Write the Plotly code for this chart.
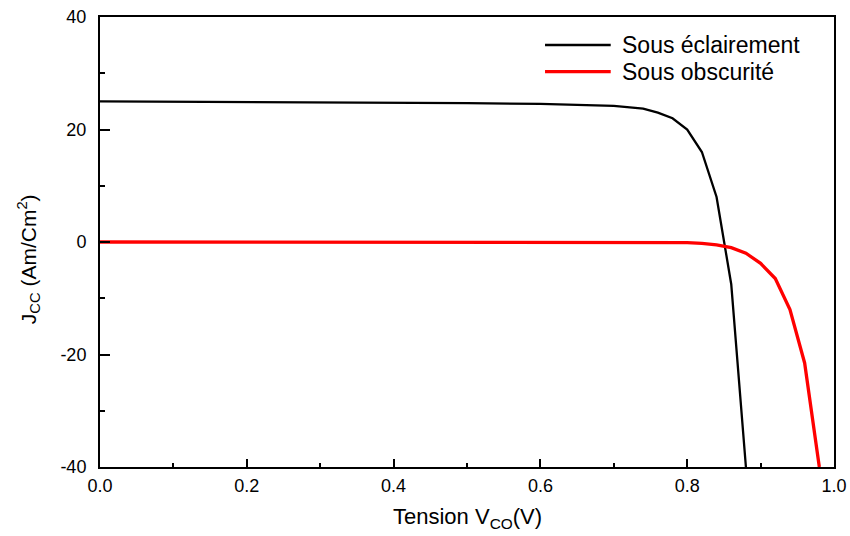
import plotly.graph_objects as go

# Current density vs voltage for the cell, illuminated and in the dark
v_light = [0.0, 0.1, 0.2, 0.3, 0.4, 0.5, 0.6, 0.66, 0.70, 0.74, 0.76, 0.78, 0.80, 0.82, 0.84, 0.86, 0.88]
j_light = [25.0, 24.95, 24.9, 24.85, 24.8, 24.7, 24.55, 24.4, 24.2, 23.7, 23.0, 22.0, 20.0, 16.0, 8.0, -7.5, -40.0]

v_dark = [0.0, 0.2, 0.4, 0.6, 0.7, 0.76, 0.80, 0.82, 0.84, 0.86, 0.88, 0.90, 0.92, 0.94, 0.96, 0.98]
j_dark = [0.0, 0.0, 0.0, 0.0, -0.02, -0.05, -0.1, -0.25, -0.5, -1.0, -2.0, -3.8, -6.5, -12.0, -21.5, -40.0]

x_ticks = [0.0, 0.2, 0.4, 0.6, 0.8, 1.0]
x_tick_labels = ["0.0", "0.2", "0.4", "0.6", "0.8", "1.0"]
y_ticks = [-40, -20, 0, 20, 40]
y_tick_labels = ["-40", "-20", "0", "20", "40"]

series_names = ["Sous éclairement", "Sous obscurité"]
series_colors = ["#000000", "#ff0000"]
series_widths = [2.3, 3.3]

FONT = "Liberation Sans, Arial, sans-serif"

fig = go.Figure()
fig.add_trace(go.Scatter(x=v_light, y=j_light, mode="lines", name=series_names[0],
                         line=dict(color=series_colors[0], width=series_widths[0]), showlegend=False))
fig.add_trace(go.Scatter(x=v_dark, y=j_dark, mode="lines", name=series_names[1],
                         line=dict(color=series_colors[1], width=series_widths[1]), showlegend=False))

axis_common = dict(showgrid=False, zeroline=False, showline=True, linecolor="#000000",
                   linewidth=2, mirror=True, ticks="inside", tickcolor="#000000",
                   tickwidth=1.5, automargin=False,
                   tickfont=dict(family=FONT, size=18, color="#000000"))

fig.update_xaxes(range=[0, 1.0], tickvals=x_ticks, ticktext=x_tick_labels, ticklen=8,
                 ticklabelstandoff=1,
                 minor=dict(dtick=0.1, ticks="inside", ticklen=4, tickcolor="#000000", tickwidth=1.5),
                 **axis_common)
fig.update_yaxes(range=[-40, 40], tickvals=y_ticks, ticktext=y_tick_labels, ticklen=10,
                 ticklabelstandoff=8,
                 minor=dict(dtick=10, ticks="inside", ticklen=5, tickcolor="#000000", tickwidth=1.5),
                 **axis_common)

annotations = [
    dict(text="Tension V<sub>CO</sub>(V)", xref="paper", yref="paper", x=0.5, y=-0.113,
         xanchor="center", yanchor="middle", showarrow=False,
         font=dict(family=FONT, size=22, color="#000000")),
    dict(text="J<sub>CC</sub> (Am/Cm<sup>2</sup>)", xref="paper", yref="paper", x=-0.098, y=0.462,
         xanchor="center", yanchor="middle", textangle=-90, showarrow=False,
         font=dict(family=FONT, size=21, color="#000000")),
]

# Hand-drawn legend: sample line plus label for each series
legend_y = [0.9378, 0.8784]
shapes = []
for name, color, width, ly in zip(series_names, series_colors, series_widths, legend_y):
    shapes.append(dict(type="line", xref="paper", yref="paper", x0=0.6063, x1=0.6958, y0=ly, y1=ly,
                       line=dict(color=color, width=width)))
    annotations.append(dict(text=name, xref="paper", yref="paper", x=0.7084, y=ly,
                            xanchor="left", yanchor="middle", showarrow=False,
                            font=dict(family=FONT, size=23, color="#000000")))

fig.update_layout(width=850, height=536, margin=dict(l=100, r=16, t=17, b=69),
                  plot_bgcolor="#ffffff", paper_bgcolor="#ffffff",
                  annotations=annotations, shapes=shapes)

fig.write_html("out.html")
